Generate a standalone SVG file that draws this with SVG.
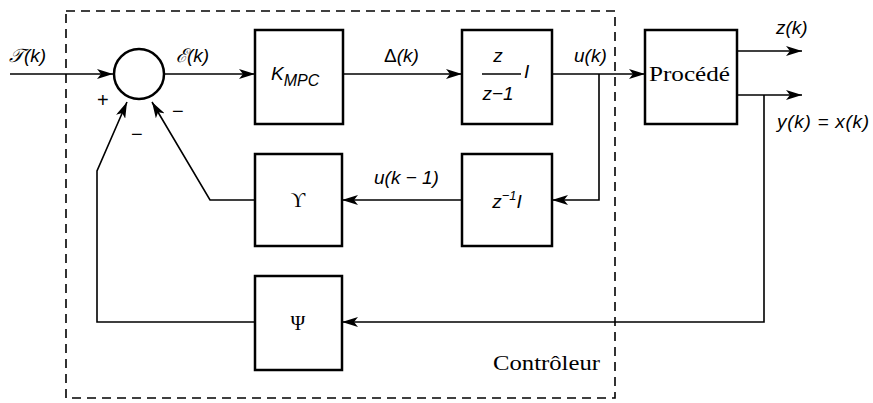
<svg xmlns="http://www.w3.org/2000/svg" width="873" height="403" viewBox="0 0 873 403">
<defs>
<marker id="ah" viewBox="0 0 16 10" refX="16" refY="5" markerWidth="16" markerHeight="10" markerUnits="userSpaceOnUse" orient="auto">
<path d="M0,0 L16,5 L0,10 L4,5 Z" fill="#000"/>
</marker>
</defs>
<style>
.box{fill:#fff;stroke:#000;stroke-width:2.5}
.ln{fill:none;stroke:#000;stroke-width:1.6}
.lb{font-family:"Liberation Sans",Arial,sans-serif;font-style:italic;font-size:19px;fill:#000}
.sf{font-family:"Liberation Serif","Times New Roman",serif;font-size:20px;fill:#000}
.sg{font-family:"Liberation Sans",Arial,sans-serif;font-size:20px;fill:#000}
</style>
<rect x="66" y="11" width="549" height="387" fill="none" stroke="#000" stroke-width="1.6" stroke-dasharray="9,6"/>
<g id="connectors">
<line class="ln" x1="10" y1="74" x2="113" y2="74" marker-end="url(#ah)"/>
<line class="ln" x1="164" y1="74" x2="255" y2="74" marker-end="url(#ah)"/>
<line class="ln" x1="343" y1="74" x2="462" y2="74" marker-end="url(#ah)"/>
<line class="ln" x1="552" y1="74" x2="645" y2="74" marker-end="url(#ah)"/>
<polyline class="ln" points="599,74 599,200 552,200" marker-end="url(#ah)"/>
<line class="ln" x1="462" y1="200" x2="342" y2="200" marker-end="url(#ah)"/>
<polyline class="ln" points="255,200 210,200 152,102" marker-end="url(#ah)"/>
<line class="ln" x1="737" y1="51" x2="802" y2="51" marker-end="url(#ah)"/>
<line class="ln" x1="737" y1="95" x2="802" y2="95" marker-end="url(#ah)"/>
<polyline class="ln" points="764,95 764,322 342,322" marker-end="url(#ah)"/>
<polyline class="ln" points="255,322 97,322 97,171 127,102" marker-end="url(#ah)"/>
</g>
<g id="sum">
<circle cx="139" cy="74" r="25" fill="#fff" stroke="#000" stroke-width="2.5"/>
<text class="sg" x="97" y="107" font-size="18">+</text>
<text class="sg" x="131" y="141" font-size="18">−</text>
<text class="sg" x="172" y="118" font-size="18">−</text>
</g>
<g id="kmpc">
<rect class="box" x="255" y="30" width="88" height="94"/>
<text class="lb" x="271" y="80" font-size="23">K<tspan font-size="16" dy="6">MPC</tspan></text>
</g>
<g id="integrator">
<rect class="box" x="462" y="30" width="90" height="94"/>
<text class="lb" x="498" y="62" text-anchor="middle">z</text>
<line x1="482" y1="74" x2="521" y2="74" stroke="#000" stroke-width="1.5"/>
<text class="lb" x="498" y="100" text-anchor="middle">z−1</text>
<text class="lb" x="524" y="78">I</text>
</g>
<g id="delay">
<rect class="box" x="462" y="154" width="90" height="92"/>
<text class="lb" x="507" y="208" text-anchor="middle">z<tspan font-size="13" dy="-8">−1</tspan><tspan dy="8">I</tspan></text>
</g>
<g id="upsilon">
<rect class="box" x="255" y="154" width="87" height="92"/>
<text class="sf" x="298" y="207" text-anchor="middle">ϒ</text>
</g>
<g id="psi">
<rect class="box" x="255" y="276" width="87" height="94"/>
<text class="sf" x="298" y="330" text-anchor="middle">Ψ</text>
</g>
<g id="procede">
<rect class="box" x="645" y="30" width="92" height="94"/>
<text class="sf" x="649" y="81" font-size="24" textLength="81" lengthAdjust="spacingAndGlyphs">Procédé</text>
</g>
<g id="labels">
<text class="lb" x="9" y="62">𝒯(k)</text>
<text class="lb" x="176" y="62">ℰ(k)</text>
<text class="lb" x="384" y="62"><tspan font-style="normal">Δ</tspan>(k)</text>
<text class="lb" x="574" y="62">u(k)</text>
<text class="lb" x="374" y="184">u(k − 1)</text>
<text class="lb" x="776" y="34">z(k)</text>
<text class="lb" x="777" y="128" font-size="20" textLength="92">y(k) = x(k)</text>
<text class="sf" x="493" y="370" font-size="22" textLength="107" lengthAdjust="spacingAndGlyphs">Contrôleur</text>
</g>
</svg>
